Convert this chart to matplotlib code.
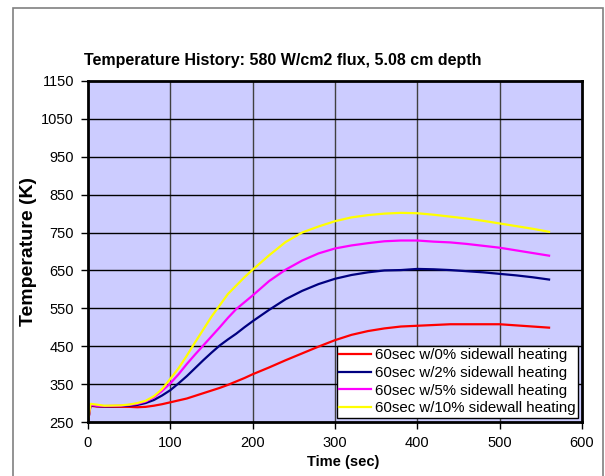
import matplotlib.pyplot as plt
from matplotlib.patches import Rectangle
import numpy as np

plt.rcParams['font.family'] = ['Liberation Sans', 'DejaVu Sans']

# time (sec) and temperature (K) for each sidewall heating case
time = [0, 3, 10, 20, 40, 50, 60, 70, 80, 90, 100, 110, 120, 130, 140, 150, 160,
        170, 180, 190, 200, 220, 240, 260, 280, 300, 320, 340, 360, 380, 400,
        420, 440, 460, 480, 500, 520, 540, 560]

temp_0 = [250, 293, 291, 290, 290, 290, 289, 290, 293, 297, 302, 307, 312, 319, 326,
          333, 340, 348, 357, 366, 376, 394, 413, 431, 449, 466, 480, 490, 497,
          502, 504, 506, 508, 508, 508, 508, 505, 502, 499]

temp_2 = [250, 295, 292, 291, 292, 293, 295, 300, 308, 320, 334, 352, 371, 392, 413,
          433, 452, 468, 483, 500, 516, 546, 574, 596, 614, 628, 638, 645, 650,
          651, 654, 653, 651, 648, 645, 641, 637, 632, 626]

temp_5 = [250, 296, 293, 292, 293, 295, 298, 304, 315, 332, 352, 376, 403, 428, 452,
          476, 500, 525, 548, 566, 584, 622, 652, 676, 695, 708, 716, 722, 727,
          729, 729, 726, 724, 720, 715, 710, 703, 696, 689]

temp_10 = [250, 298, 296, 293, 294, 296, 300, 306, 318, 337, 364, 392, 425, 460, 494,
           528, 558, 588, 610, 632, 652, 690, 725, 750, 766, 780, 790, 796, 800,
           802, 801, 797, 792, 787, 781, 774, 767, 760, 752]

labels = ['60sec w/0% sidewall heating', '60sec w/2% sidewall heating',
          '60sec w/5% sidewall heating', '60sec w/10% sidewall heating']
colors = ['#FF0000', '#000080', '#FF00FF', '#FFFF00']

fig = plt.figure(figsize=(6.05, 4.76), dpi=100)
fig.patches.append(Rectangle((13 / 605, -0.1), 590 / 605, 1.1 - 8 / 476,
                             transform=fig.transFigure, fill=False,
                             edgecolor='#808080', linewidth=1.2))

ax = fig.add_axes([88 / 605, 1 - 422 / 476, 494 / 605, 341 / 476])
ax.set_facecolor('#CCCCFF')

for y, lab, c in zip([temp_0, temp_2, temp_5, temp_10], labels, colors):
    ax.plot(time, y, color=c, linewidth=1.6, label=lab)

ax.set_xlim(0, 600)
ax.set_ylim(250, 1150)
ax.set_xticks(np.arange(0, 601, 100))
ax.set_yticks(np.arange(250, 1151, 100))
for x in range(100, 600, 100):
    ax.axvline(x, color='#404040', linewidth=1.0, zorder=0.5)
for y in range(350, 1150, 100):
    ax.axhline(y, color='black', linewidth=1.0, zorder=0.5)

for s in ax.spines.values():
    s.set_linewidth(2)
ax.tick_params(direction='out', length=5, width=1, labelsize=10.5, pad=5)

ax.set_xlabel('Time (sec)', fontsize=10.5, fontweight='bold', labelpad=4, x=0.516)
ax.set_ylabel('Temperature (K)', fontsize=14, fontweight='bold', labelpad=3)
fig.text(283 / 605, 1 - 60 / 476, 'Temperature History: 580 W/cm2 flux, 5.08 cm depth',
         ha='center', va='center', fontsize=11.5, fontweight='bold')

leg = ax.legend(loc='lower right', fontsize=10.8, frameon=True, fancybox=False,
                shadow=False, borderpad=0.15, labelspacing=0.25, handlelength=2.1,
                handletextpad=0.25, borderaxespad=0.3)
leg.get_frame().set_edgecolor('black')
leg.get_frame().set_linewidth(1)
leg.get_frame().set_facecolor('white')
leg.get_frame().set_alpha(1)

fig.savefig('out.png', dpi=100)
